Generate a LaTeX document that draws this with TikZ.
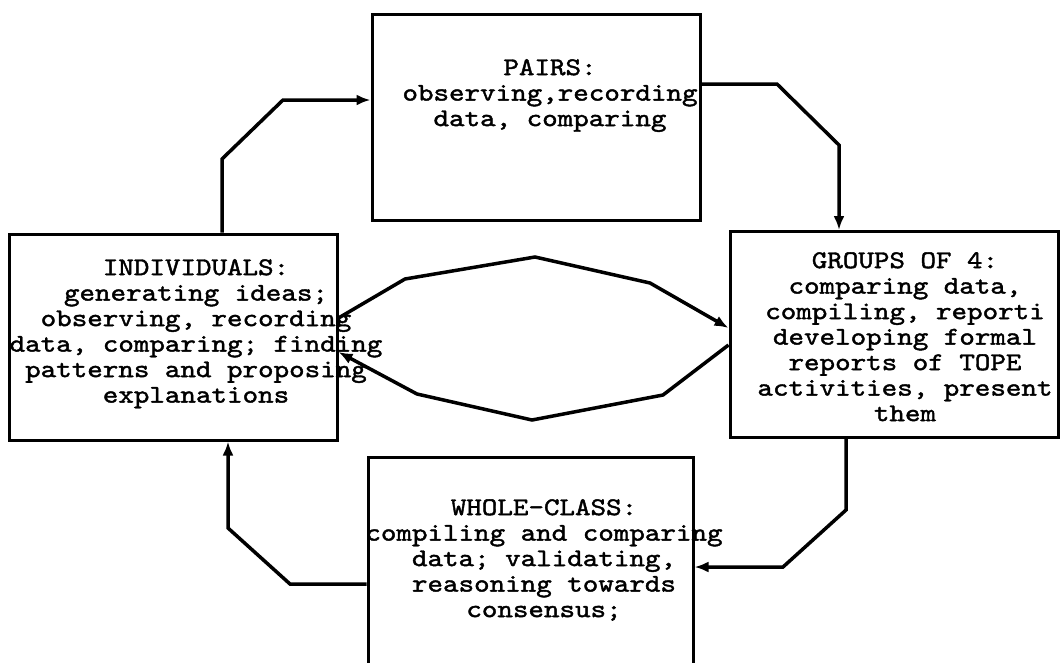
\documentclass[tikz,border=0pt]{standalone}
\usepackage{fontspec}
\newfontfamily\boxfont{lmmono10-regular.otf}[FakeBold=1.6,FakeStretch=1.16]
\usetikzlibrary{arrows.meta}
\begin{document}
\begin{tikzpicture}[x=1pt,y=-1pt,>={Latex[length=14pt,width=11pt]},
	box/.style={draw,line width=3pt,minimum width=328pt,minimum height=206pt,inner sep=0pt},
	txt/.style={anchor=north,align=center,inner sep=0pt,font=\fontsize{25.5}{25.5}\selectfont\boxfont},
	conn/.style={->,line width=3.5pt}]
	\useasboundingbox (0,0) rectangle (1061,662);
	\clip (0,0) rectangle (1061,662);
	% boxes
	\node[box] (pairs) at (536,117) {};
	\node[box] (indiv) at (173,337) {};
	\node[box] (groups) at (894,334.5) {};
	\node[box,minimum width=325pt,minimum height=210pt] (whole) at (530.5,562) {};
	% texts
	\node[txt] (pairs-txt) at (550,59) {PAIRS:\\observing,recording\\data, comparing};
	\node[txt] (indiv-txt) at (196,259) {INDIVIDUALS:\\generating ideas;\\observing, recording\\data, comparing; finding\\patterns and proposing\\explanations};
	\node[txt] (groups-txt) at (905,252) {GROUPS OF 4:\\comparing data,\\compiling, reporti\\developing formal\\reports of TOPE\\activities, present\\them};
	\node[txt] (whole-txt) at (544,499) {WHOLE-CLASS:\\compiling and comparing\\data; validating,\\reasoning towards\\consensus;};
	% cycle
	\draw[conn] ([xshift=49pt]indiv.north) -- (222,159) -- (283,100) -- ([yshift=17pt]pairs.west);
	\draw[conn] ([yshift=33pt]pairs.east) -- (777,84) -- (839,145) -- ([xshift=-55pt]groups.north);
	\draw[conn] ([xshift=-48pt]groups.south) -- (846,510) -- (783,567) -- ([yshift=-5pt]whole.east);
	\draw[conn] ([yshift=-22pt]whole.west) -- (290,584) -- (228,528) -- ([xshift=55pt]indiv.south);
	% exchange
	\draw[conn] ([yshift=19pt]indiv.east) -- (405,279) -- (535,257) -- (650,283) -- ([yshift=6.5pt]groups.west);
	\draw[conn] ([yshift=-10.5pt]groups.west) -- (663,395) -- (532,420) -- (417,394) -- ([yshift=-15pt]indiv.east);
\end{tikzpicture}
\end{document}
